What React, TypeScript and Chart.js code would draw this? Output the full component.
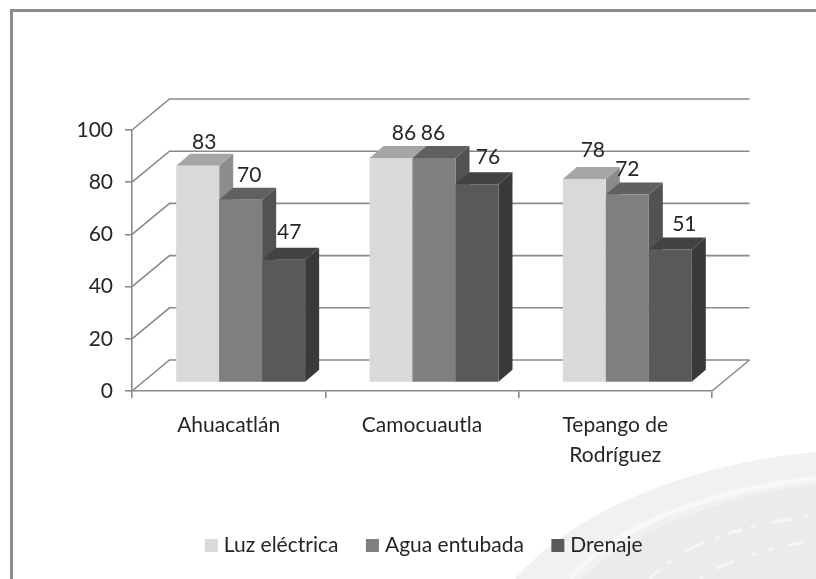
import React, { useEffect, useRef } from "react";
import { Chart, registerables } from "chart.js";

Chart.register(...registerables);

const categories = ["Ahuacatlán", "Camocuautla", ["Tepango de", "Rodríguez"]];
const luzElectrica = [83, 86, 78];
const aguaEntubada = [70, 86, 72];
const drenaje = [47, 76, 51];
const seriesNames = ["Luz eléctrica", "Agua entubada", "Drenaje"];

const FRONT = ["#d9d9d9", "#7f7f7f", "#595959"];
const SIDE = ["#8c8c8c", "#525252", "#3a3a3a"];
const TOP = ["#a6a6a6", "#606060", "#424242"];
const AXIS = "#8a8a8a";
const TEXT = "#262626";
const FONT = "Lato";

// depth of the 3D wall and of the bars
const WALL = { dx: 37.5, dy: 31 };
const BAR = { dx: 14, dy: 12, sx: 12, sy: -8.5 };
// hand nudges of the data labels [series][category] -> [dx, dy]
const NUDGE = [
  [[6.5, -24], [13, -25], [8.5, -29]],
  [[8.5, -25], [-1, -25], [0, -25]],
  [[5.5, -28], [11, -27], [14, -25]],
];

const watermark = {
  id: "watermark",
  beforeDraw(chart: any) {
    const c = chart.ctx;
    c.save();
    c.fillStyle = "#ffffff";
    c.fillRect(0, 0, chart.width, chart.height);
    // outer thin band of the background swoosh
    c.fillStyle = "#f1f1f1";
    c.beginPath();
    c.moveTo(515, 579);
    c.bezierCurveTo(570, 515, 680, 465, 816, 452);
    c.lineTo(816, 579);
    c.closePath();
    c.fill();
    // pale gap between the bands
    c.strokeStyle = "#f8f8f8";
    c.lineWidth = 5;
    c.beginPath();
    c.moveTo(570, 579);
    c.bezierCurveTo(610, 530, 700, 492, 816, 478);
    c.stroke();
    // inner band
    c.fillStyle = "#ebebeb";
    c.beginPath();
    c.moveTo(582, 579);
    c.bezierCurveTo(625, 535, 710, 498, 816, 484);
    c.lineTo(816, 579);
    c.closePath();
    c.fill();
    // broken pale streaks inside the inner band
    c.strokeStyle = "#f6f6f6";
    c.lineWidth = 3;
    c.setLineDash([14, 9, 5, 16, 22, 12, 4, 10]);
    c.beginPath();
    c.moveTo(650, 579);
    c.bezierCurveTo(680, 545, 740, 525, 816, 515);
    c.stroke();
    c.setLineDash([6, 14, 18, 20, 4, 12]);
    c.beginPath();
    c.moveTo(700, 579);
    c.bezierCurveTo(725, 560, 770, 548, 816, 540);
    c.stroke();
    c.restore();
    c.save();
    c.strokeStyle = "#8c8c8c";
    c.lineWidth = 3;
    c.beginPath();
    c.moveTo(11.5, 579);
    c.lineTo(11.5, 10.5);
    c.lineTo(816, 10.5);
    c.stroke();
    c.restore();
  },
};

const wall = {
  id: "wall",
  beforeDatasetsDraw(chart: any) {
    const c = chart.ctx;
    const { x, y } = chart.scales;
    c.save();
    c.strokeStyle = AXIS;
    c.lineWidth = 1.6;
    y.ticks.forEach((t: any) => {
      const py = y.getPixelForValue(t.value);
      c.beginPath();
      c.moveTo(x.left, py);
      c.lineTo(x.left + WALL.dx, py - WALL.dy);
      c.lineTo(x.right + WALL.dx, py - WALL.dy);
      c.stroke();
    });
    const by = y.getPixelForValue(0);
    c.beginPath();
    c.moveTo(x.right, by);
    c.lineTo(x.right + WALL.dx, by - WALL.dy);
    c.stroke();
    c.restore();
  },
};

const prism = {
  id: "prism",
  afterLayout(chart: any) {
    // the legend sits centred under the whole picture, not under the plot
    chart.legend.left += 70;
    chart.legend.right += 70;
    chart.legend.top -= 13;
    chart.legend.bottom -= 13;
  },
  beforeDatasetsDraw(chart: any) {
    const c = chart.ctx;
    chart.data.datasets.forEach((_: any, i: number) => {
      const meta = chart.getDatasetMeta(i);
      c.save();
      c.translate(BAR.sx, BAR.sy);
      meta.data.forEach((b: any) => {
        const p = b.getProps(["x", "y", "base", "width"], true);
        const l = p.x - p.width / 2;
        const r = p.x + p.width / 2;
        c.fillStyle = SIDE[i];
        c.beginPath();
        c.moveTo(r, p.y);
        c.lineTo(r + BAR.dx, p.y - BAR.dy);
        c.lineTo(r + BAR.dx, p.base - BAR.dy);
        c.lineTo(r, p.base);
        c.closePath();
        c.fill();
        c.fillStyle = TOP[i];
        c.beginPath();
        c.moveTo(l, p.y);
        c.lineTo(l + BAR.dx, p.y - BAR.dy);
        c.lineTo(r + BAR.dx, p.y - BAR.dy);
        c.lineTo(r, p.y);
        c.closePath();
        c.fill();
      });
      meta.controller.draw();
      c.restore();
    });
  },
  beforeDatasetDraw() {
    return false;
  },
  afterDatasetsDraw(chart: any) {
    const c = chart.ctx;
    c.save();
    c.font = `21px ${FONT}`;
    c.fillStyle = TEXT;
    c.textAlign = "center";
    c.textBaseline = "middle";
    chart.data.datasets.forEach((ds: any, i: number) => {
      chart.getDatasetMeta(i).data.forEach((b: any, j: number) => {
        const [nx, ny] = NUDGE[i][j];
        c.fillText(String(ds.data[j]), b.x + BAR.sx + nx, b.y + BAR.sy + ny);
      });
    });
    c.restore();
  },
};

export default function App() {
  const ref = useRef<HTMLCanvasElement>(null);
  useEffect(() => {
    document.body.style.margin = "0";
    const values = [luzElectrica, aguaEntubada, drenaje];
    const chart = new Chart(ref.current as HTMLCanvasElement, {
      type: "bar",
      data: {
        labels: categories as any,
        datasets: values.map((data, i) => ({
          label: seriesNames[i],
          data,
          backgroundColor: FRONT[i],
          borderWidth: 0,
        })),
      },
      plugins: [watermark, wall, prism],
      options: {
        animation: false,
        responsive: false,
        layout: { padding: { left: 0, right: 104, top: 130, bottom: 0 } },
        datasets: { bar: { categoryPercentage: 0.667, barPercentage: 1 } },
        plugins: {
          tooltip: { enabled: false },
          title: { display: false },
          legend: {
            position: "bottom",
            labels: {
              usePointStyle: true,
              pointStyle: "rect",
              boxWidth: 4,
              boxHeight: 13,
              padding: 32,
              color: TEXT,
              font: { family: FONT, size: 21 },
            },
          },
        },
        scales: {
          x: {
            afterFit(s: any) { s.height = 125; },
            grid: { drawOnChartArea: false, drawTicks: true, tickLength: 7, color: AXIS, lineWidth: 1.6 },
            border: { color: AXIS, width: 1.6 },
            ticks: { color: TEXT, font: { family: FONT, size: 21, lineHeight: 1.43 }, maxRotation: 0, autoSkip: false, padding: 12 },
          },
          y: {
            min: 0,
            max: 100,
            afterFit(s: any) { s.width = 132; },
            grid: { drawOnChartArea: false, drawTicks: true, tickLength: 7, color: AXIS, lineWidth: 1.6 },
            border: { color: AXIS, width: 1.6 },
            ticks: { stepSize: 20, color: TEXT, font: { family: FONT, size: 21 }, padding: 12 },
          },
        },
      } as any,
    });
    return () => chart.destroy();
  }, []);
  return <canvas ref={ref} width={816} height={579} style={{ display: "block" }} />;
}
